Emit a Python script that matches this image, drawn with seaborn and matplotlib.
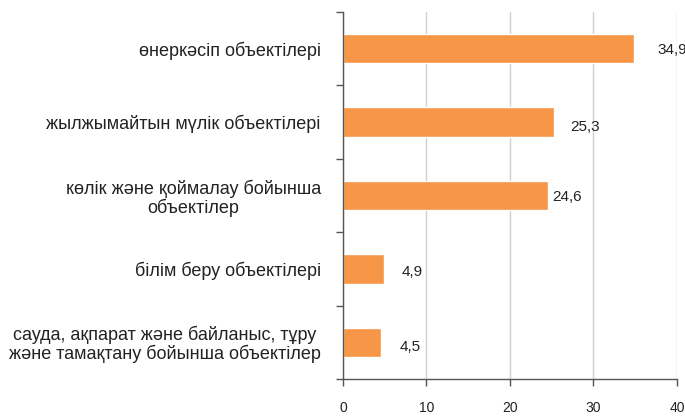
import matplotlib
matplotlib.use('Agg')
import matplotlib.pyplot as plt
import seaborn as sns
import pandas as pd
from matplotlib.ticker import MultipleLocator

categories = [
    'өнеркәсіп объектілері',
    'жылжымайтын мүлік объектілері',
    'көлік және қоймалау бойынша\nобъектілер',
    'білім беру объектілері',
    'сауда, ақпарат және байланыс, тұру\nжәне тамақтану бойынша объектілер',
]
values = [34.9, 25.3, 24.6, 4.9, 4.5]
value_labels = ['34,9', '25,3', '24,6', '4,9', '4,5']
x_ticks = [0, 10, 20, 30, 40]

# label placement (in points) as in the source chart, which was hand-placed
label_dx = [16.5, 11.5, 3, 13, 13.5]
label_dy = [-0.7, -3.5, -1.4, -2, -3.5]

sns.set_style('white')
plt.rcParams['font.family'] = ['Liberation Sans', 'DejaVu Sans']

df = pd.DataFrame({'cat': categories, 'val': values})

fig = plt.figure(figsize=(6.85, 4.17), dpi=100)
ax = fig.add_axes([0.5007, 0.0911, 0.4876, 0.8801])
sns.barplot(data=df, x='val', y='cat', orient='h', color='#F79646',
            saturation=1, width=0.4, ax=ax)

ax.set_xlim(0, 40)
ax.set_ylim(len(categories) - 0.5, -0.5)
ax.set_xticks(x_ticks)
ax.set_xticklabels([str(t) for t in x_ticks])
ax.grid(axis='x', color='#d0d0d0', linewidth=1)
ax.set_axisbelow(True)
ax.set_xlabel('')
ax.set_ylabel('')

for s in ['top', 'right']:
    ax.spines[s].set_visible(False)
for s in ['left', 'bottom']:
    ax.spines[s].set_color('#555555')
    ax.spines[s].set_linewidth(1)

# tick marks between categories
ax.yaxis.set_minor_locator(MultipleLocator(1, offset=0.5))
ax.tick_params(axis='y', which='major', length=0, pad=16, labelsize=13, labelcolor='#222222')
ax.tick_params(axis='y', which='minor', length=5, width=1, color='#555555', left=True)
ax.tick_params(axis='x', which='major', length=5, width=1, color='#555555', bottom=True,
               pad=11, labelsize=10, labelcolor='#222222')
for lbl in ax.get_yticklabels():
    lbl.set_multialignment('center')
    lbl.set_linespacing(1.05)

for i, (v, t) in enumerate(zip(values, value_labels)):
    ax.annotate(t, xy=(v, i), xytext=(label_dx[i], label_dy[i]),
                textcoords='offset points', va='center', ha='left',
                fontsize=11, color='#222222', annotation_clip=False)

plt.savefig('out.png', dpi=100)
